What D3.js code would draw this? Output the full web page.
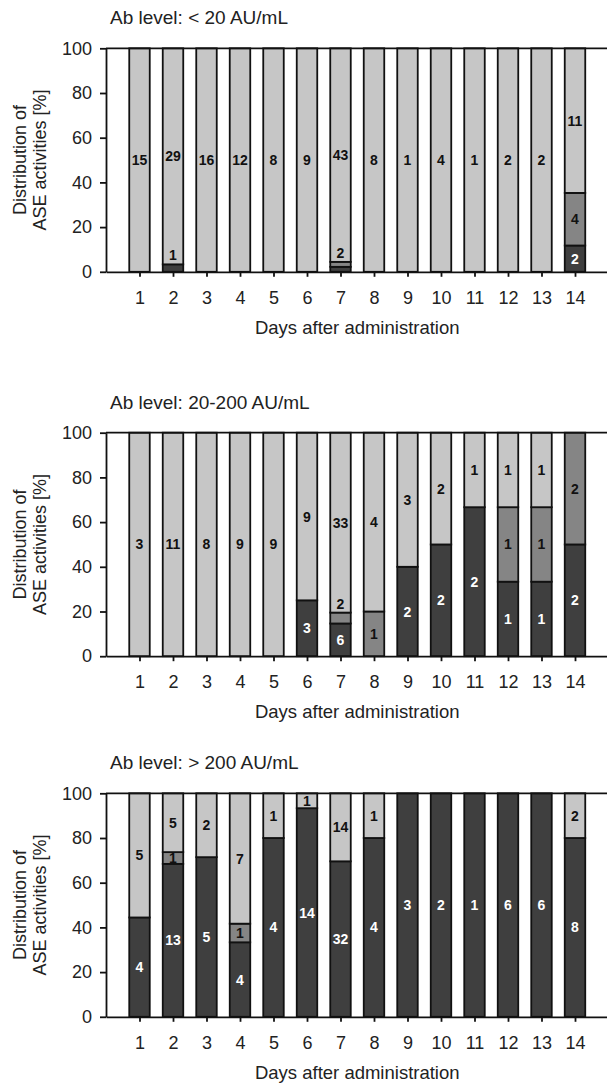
<!DOCTYPE html>
<html>
<head>
<meta charset="utf-8">
<script src="https://cdn.jsdelivr.net/npm/d3@7"></script>
<style>
  body { margin: 0; background: #fff; }
  svg { display: block; font-family: "Liberation Sans", Arial, sans-serif; }
</style>
</head>
<body>
<div id="graph"></div>
<script>
// days on the x axis and y tick values
var days = [1, 2, 3, 4, 5, 6, 7, 8, 9, 10, 11, 12, 13, 14];
var yTicks = [0, 20, 40, 60, 80, 100];
var panelTitles = ["Ab level: < 20 AU/mL", "Ab level: 20-200 AU/mL", "Ab level: > 200 AU/mL"];
var xTitle = "Days after administration";
var yTitle = ["Distribution of", "ASE activities [%]"];

// counts per day (dark = bottom, mid, light = top)
var lowDark  = [0, 1, 0, 0, 0, 0, 1, 0, 0, 0, 0, 0, 0, 2];
var lowMid   = [0, 0, 0, 0, 0, 0, 1, 0, 0, 0, 0, 0, 0, 4];
var lowLight = [15, 29, 16, 12, 8, 9, 43, 8, 1, 4, 1, 2, 2, 11];

var midDark  = [0, 0, 0, 0, 0, 3, 6, 0, 2, 2, 2, 1, 1, 2];
var midMid   = [0, 0, 0, 0, 0, 0, 2, 1, 0, 0, 0, 1, 1, 2];
var midLight = [3, 11, 8, 9, 9, 9, 33, 4, 3, 2, 1, 1, 1, 0];

var highDark  = [4, 13, 5, 4, 4, 14, 32, 4, 3, 2, 1, 6, 6, 8];
var highMid   = [0, 1, 0, 1, 0, 0, 0, 0, 0, 0, 0, 0, 0, 0];
var highLight = [5, 5, 2, 7, 1, 1, 14, 1, 0, 0, 0, 0, 0, 2];

var keys = ["dark", "mid", "light"];
var fills = {dark: "#3f3f3f", mid: "#858585", light: "#c6c6c6"};
var textFill = {dark: "#fff", mid: "#111", light: "#111"};

var panels = [
  {title: panelTitles[0], dark: lowDark, mid: lowMid, light: lowLight, top: 48.3},
  {title: panelTitles[1], dark: midDark, mid: midMid, light: midLight, top: 432.7},
  {title: panelTitles[2], dark: highDark, mid: highMid, light: highLight, top: 793.3}
];

var W = 607, H = 1084;
var left = 106, plotH = 223.5, step = 33.5, barW = 20.5;

var svg = d3.select("#graph").append("svg")
  .attr("width", W)
  .attr("height", H);

var xScale = d3.scaleLinear().domain([0, 15]).range([left, left + 15 * step]);

panels.forEach(function(p) {
  var yScale = d3.scaleLinear().domain([0, 100]).range([p.top + plotH, p.top]);

  var rows = days.map(function(d, i) {
    return {day: d, dark: p.dark[i], mid: p.mid[i], light: p.light[i]};
  });
  var series = d3.stack().keys(keys).offset(d3.stackOffsetExpand)(rows);

  var g = svg.append("g");

  // panel title
  g.append("text")
    .attr("x", 110)
    .attr("y", p.top - 24)
    .attr("font-size", 19)
    .attr("fill", "#222")
    .text(p.title);

  // bars
  series.forEach(function(s) {
    g.selectAll(null).data(s.filter(function(e) { return e[1] > e[0]; }))
      .enter().append("rect")
      .attr("x", function(e) { return xScale(e.data.day) - barW / 2; })
      .attr("width", barW)
      .attr("y", function(e) { return yScale(e[1] * 100); })
      .attr("height", function(e) { return yScale(e[0] * 100) - yScale(e[1] * 100); })
      .attr("fill", fills[s.key])
      .attr("stroke", "#111")
      .attr("stroke-width", 1.8);
  });

  // segment labels; tiny bottom segments are summed and written above
  rows.forEach(function(r, i) {
    var tinySum = 0, tinyTop = null;
    series.forEach(function(s) {
      var e = s[i];
      if (e[1] <= e[0]) return;
      var y0 = yScale(e[0] * 100), y1 = yScale(e[1] * 100);
      if (y0 - y1 < 11.3) {
        tinySum += r[s.key];
        tinyTop = y1;
        return;
      }
      g.append("text")
        .attr("x", xScale(r.day))
        .attr("y", (y0 + y1) / 2)
        .attr("dy", "0.36em")
        .attr("text-anchor", "middle")
        .attr("font-size", 14)
        .attr("font-weight", "bold")
        .attr("fill", textFill[s.key])
        .text(r[s.key]);
    });
    if (tinySum > 0) {
      g.append("text")
        .attr("x", xScale(r.day))
        .attr("y", tinyTop - 4)
        .attr("text-anchor", "middle")
        .attr("font-size", 14)
        .attr("font-weight", "bold")
        .attr("fill", "#111")
        .text(tinySum);
    }
  });

  // top frame line
  g.append("line")
    .attr("x1", left).attr("x2", xScale(15))
    .attr("y1", yScale(100)).attr("y2", yScale(100))
    .attr("stroke", "#111").attr("stroke-width", 1.8);

  // axes
  var ax = g.append("g")
    .attr("transform", "translate(0," + yScale(0) + ")")
    .call(d3.axisBottom(xScale).tickValues(days).tickSize(5).tickSizeOuter(0).tickPadding(14));
  var ay = g.append("g")
    .attr("transform", "translate(" + left + ",0)")
    .call(d3.axisLeft(yScale).tickValues(yTicks).tickSize(6).tickSizeOuter(0).tickPadding(8));

  [ax, ay].forEach(function(a) {
    a.selectAll("path, line").attr("stroke", "#111").attr("stroke-width", 1.8);
    a.selectAll("text").attr("font-size", 18).attr("fill", "#222")
      .attr("font-family", "Liberation Sans, Arial, sans-serif");
  });

  // x axis title
  g.append("text")
    .attr("x", (xScale(0) + xScale(15)) / 2)
    .attr("y", yScale(0) + 62)
    .attr("text-anchor", "middle")
    .attr("font-size", 18.5)
    .attr("fill", "#222")
    .text(xTitle);

  // y axis title, two lines
  var yt = g.append("text")
    .attr("transform", "translate(0," + (p.top + plotH / 2) + ") rotate(-90)")
    .attr("text-anchor", "middle")
    .attr("font-size", 18)
    .attr("fill", "#222");
  yt.append("tspan").attr("x", 0).attr("y", 26).text(yTitle[0]);
  yt.append("tspan").attr("x", 0).attr("y", 46).text(yTitle[1]);
});
</script>
</body>
</html>
